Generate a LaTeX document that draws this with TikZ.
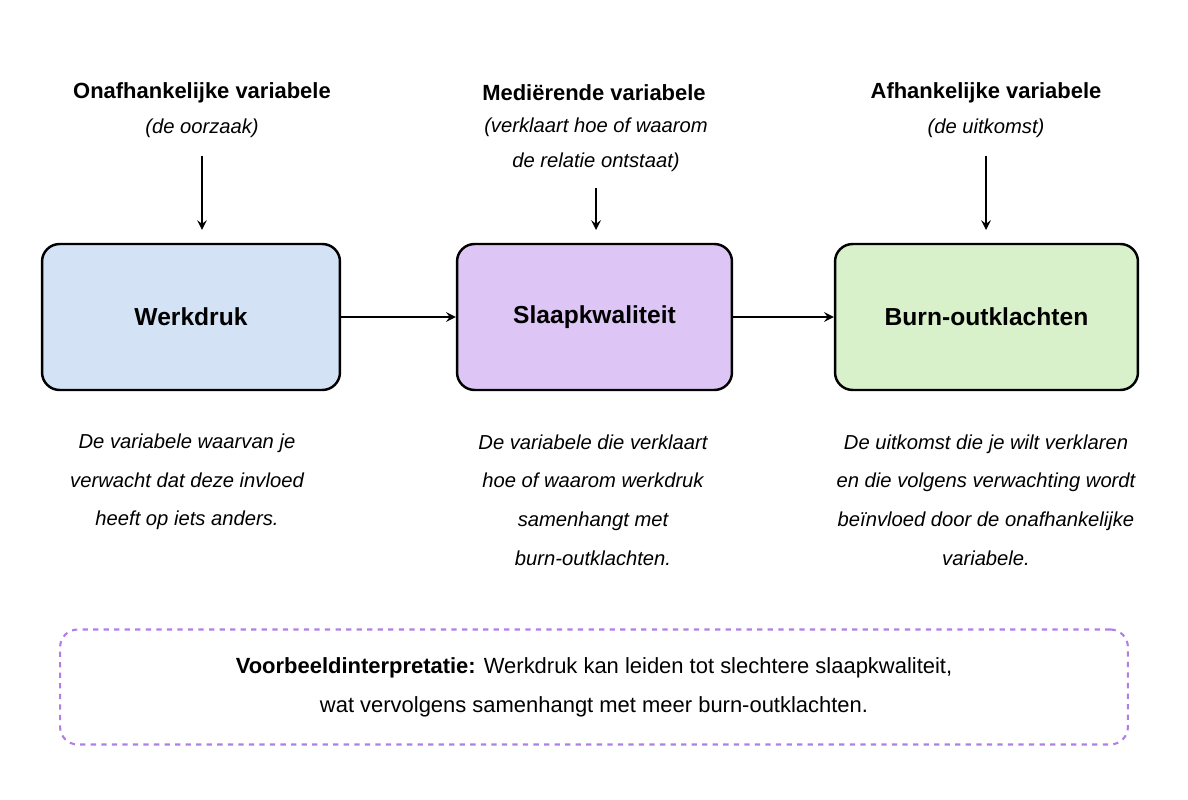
\documentclass[tikz,border=0pt]{standalone}
\usepackage{fontspec}
\setmainfont{Liberation Sans}
\usepackage{tikz}
\usetikzlibrary{positioning}
\definecolor{bluefill}{HTML}{D3E3F5}
\definecolor{purplefill}{HTML}{DDC6F5}
\definecolor{greenfill}{HTML}{D8F1CB}
\definecolor{dashpurple}{HTML}{B07FE6}
\begin{document}
\begin{tikzpicture}[x=0.02cm, y=-0.02cm,
    varbox/.style={rectangle, rounded corners=10pt, draw, line width=1.4pt, font=\fontsize{14}{16}\selectfont\bfseries},
    head/.style={font=\fontsize{12.5}{15}\selectfont\bfseries},
    sub/.style={font=\fontsize{11.5}{20}\selectfont\itshape, align=center},
    desc/.style={font=\fontsize{11.5}{22}\selectfont\itshape, align=center}]
    \useasboundingbox (0,0) rectangle (1188,800);
    \begin{scope}[every node/.style={varbox, minimum height=2.92cm}]
      \node [fill=bluefill, minimum width=5.96cm] (werk) at (191,317) {Werkdruk};
      \node [fill=purplefill, minimum width=5.5cm] (slaap) at (594.5,317) {Slaapkwaliteit};
      \node [fill=greenfill, minimum width=6.06cm] (burn) at (986.5,317) {Burn-outklachten};
    \end{scope}
    \node [head] (hwerk) at (202,93) {Onafhankelijke variabele};
    \node [head] (hslaap) at (594,93) {Mediërende variabele};
    \node [head] (hburn) at (986,93) {Afhankelijke variabele};
    \node [sub] (swerk) at (202,128) {(de oorzaak)};
    \node [sub] (sslaap) at (596,145) {(verklaart hoe of waarom\\de relatie ontstaat)};
    \node [sub] (sburn) at (986,128) {(de uitkomst)};
    \coordinate (twerk) at (202,230);
    \coordinate (tslaap) at (596,230);
    \coordinate (tburn) at (986,230);
    \begin{scope}[->, >=stealth, line width=1.4pt]
      \draw (202,156) to (twerk);
      \draw (596,188) to (tslaap);
      \draw (986,156) to (tburn);
      \draw (werk) to (slaap);
      \draw (slaap) to (burn);
    \end{scope}
    \node [desc] (dwerk) at (187,482) {De variabele waarvan je\\verwacht dat deze invloed\\heeft op iets anders.};
    \node [desc] (dslaap) at (593,500) {De variabele die verklaart\\hoe of waarom werkdruk\\samenhangt met\\burn-outklachten.};
    \node [desc] (dburn) at (986,500) {De uitkomst die je wilt verklaren\\en die volgens verwachting wordt\\beïnvloed door de onafhankelijke\\variabele.};
    \node [rectangle, rounded corners=10pt, draw=dashpurple, dashed, line width=1.2pt,
      minimum width=21.36cm, minimum height=2.3cm, align=center,
      font=\fontsize{12.5}{22}\selectfont] (voorbeeld) at (594,687)
      {\textbf{Voorbeeldinterpretatie:} Werkdruk kan leiden tot slechtere slaapkwaliteit,\\wat vervolgens samenhangt met meer burn-outklachten.};
\end{tikzpicture}
\end{document}
